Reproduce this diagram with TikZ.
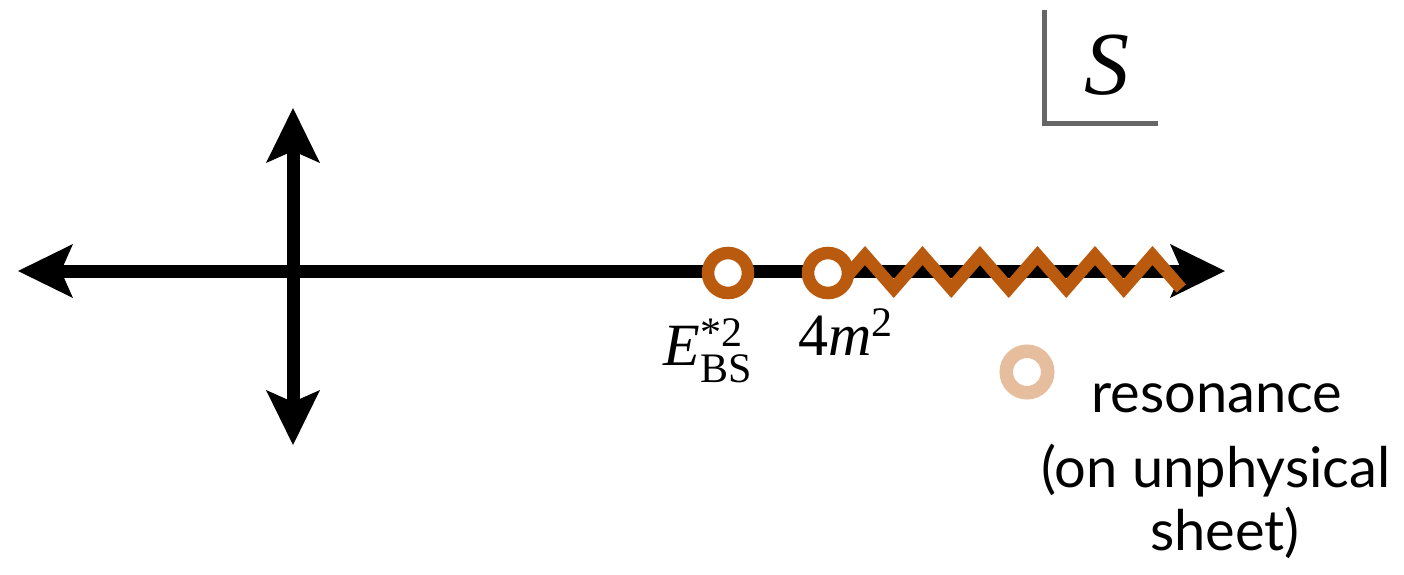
\documentclass[tikz,border=0pt]{standalone}
\usepackage{amsmath}
\usepackage{fontspec}
\setmainfont{Liberation Serif}[ItalicFont=Liberation Serif Italic]
\newfontfamily\tmsit{Liberation Serif Italic}
\newfontfamily\gillfont{Lato}
\usetikzlibrary{arrows.meta}
\definecolor{cut}{RGB}{186,90,14}
\definecolor{reso}{RGB}{230,190,158}
\definecolor{axgray}{RGB}{102,102,102}
\begin{document}
\begin{tikzpicture}[x=0.5pt,y=-0.5pt,
  tipH/.tip={Stealth[length=27.5pt,width=27pt,inset=6pt,line width=0pt]},
  axisline/.style={line width=6.5pt, tipH-tipH},
  ring/.style={circle, draw=cut, line width=6.25pt, fill=white, minimum size=20pt, inner sep=0pt},
  resring/.style={circle, draw=reso, line width=6.75pt, fill=white, minimum size=20.75pt, inner sep=0pt},
  mathlbl/.style={anchor=base west, inner sep=0pt, font=\fontsize{30}{36}\selectfont},
  gilltxt/.style={anchor=base, inner sep=0pt, font=\gillfont\fontsize{28}{33}\selectfont},
  cutline/.style={draw=cut, line width=6.25pt, line join=miter}
]
\useasboundingbox (0,0) rectangle (1404,574);
% axes
\coordinate (L) at (18,271);
\coordinate (R) at (1225,271);
\coordinate (T) at (293,108);
\coordinate (B) at (293,445);
\draw[axisline] (L) -- (R);
\draw[axisline] (T) -- (B);
% branch cut (zigzag)
\draw[cutline] (836.25,288.5) -- (865,255.5) -- (893.75,288.5) -- (922.5,255.5)
  -- (951.25,288.5) -- (980,255.5) -- (1008.75,288.5) -- (1037.5,255.5)
  -- (1066.25,288.5) -- (1095,255.5) -- (1123.75,288.5) -- (1152.5,255.5)
  -- (1181.25,288.5);
% points
\node[ring] (ebs) at (728,273) {};
\node[ring] (fourm) at (828,273) {};
\node[resring] (res) at (1027,372) {};
% labels
\node[mathlbl] (ebslbl) at (663,365) {{\tmsit E}$^{\text{*2}}_{\text{BS}}$};
\node[mathlbl] (fourmlbl) at (798,355) {4{\tmsit m}$^{\text{2}}$};
% s-plane label
\draw[axgray, line width=2.5pt] (1044,10) -- (1044,123) -- (1158,123);
\node[inner sep=0pt, font=\tmsit\fontsize{45}{54}\selectfont] (slbl) at (1107,65) {S};
% resonance text
\node[gilltxt] (t1) at (1217,412) {resonance};
\node[gilltxt] (t2) at (1216,487) {(on unphysical};
\node[gilltxt] (t3) at (1225,550) {sheet)};
\end{tikzpicture}
\end{document}
